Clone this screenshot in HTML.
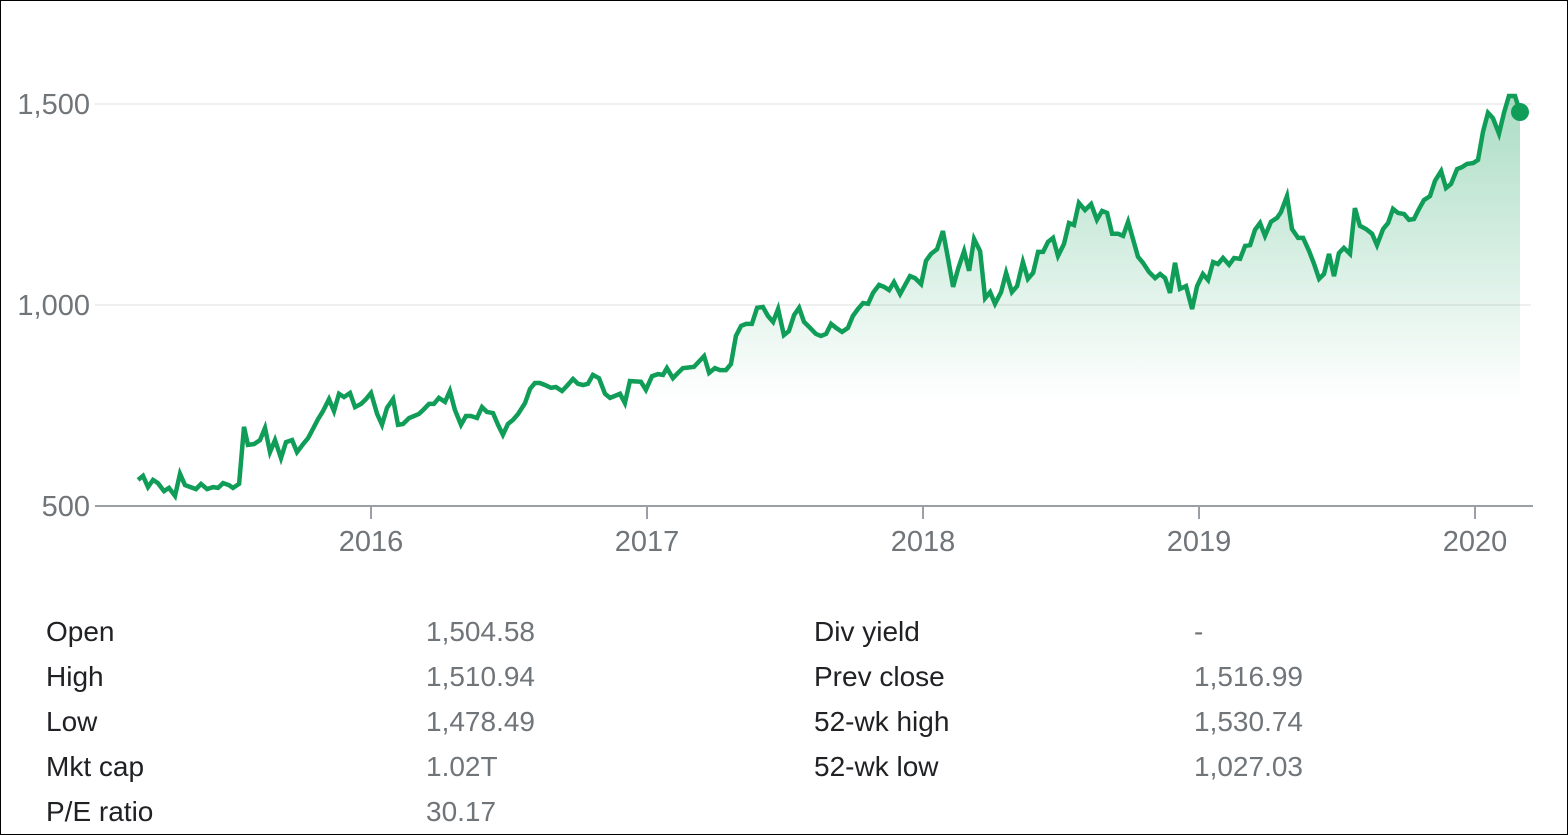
<!DOCTYPE html>
<html><head><meta charset="utf-8"><style>
body{margin:0;width:1568px;height:835px;background:#fff;font-family:"Liberation Sans",Arial,sans-serif;overflow:hidden}
#frame{position:absolute;left:0;top:0;width:1566px;height:833px;border:1px solid #000}
.st{position:absolute;font-size:28px;line-height:30px}
.l{color:#202124}.v{color:#70757a}
</style></head><body>
<div id="frame">
<svg id="chart" width="1568" height="600" style="position:absolute;left:0;top:0">
<defs><linearGradient id="g" x1="0" y1="95" x2="0" y2="400" gradientUnits="userSpaceOnUse">
<stop offset="0" stop-color="#0f9d58" stop-opacity="0.35"/><stop offset="1" stop-color="#0f9d58" stop-opacity="0"/></linearGradient></defs>
</svg>
<div class="st l" style="left:45px;top:616px">Open</div>
<div class="st v" style="left:425px;top:616px">1,504.58</div>
<div class="st l" style="left:45px;top:661px">High</div>
<div class="st v" style="left:425px;top:661px">1,510.94</div>
<div class="st l" style="left:45px;top:706px">Low</div>
<div class="st v" style="left:425px;top:706px">1,478.49</div>
<div class="st l" style="left:45px;top:751px">Mkt cap</div>
<div class="st v" style="left:425px;top:751px">1.02T</div>
<div class="st l" style="left:45px;top:796px">P/E ratio</div>
<div class="st v" style="left:425px;top:796px">30.17</div>
<div class="st l" style="left:813px;top:616px">Div yield</div>
<div class="st v" style="left:1193px;top:616px">-</div>
<div class="st l" style="left:813px;top:661px">Prev close</div>
<div class="st v" style="left:1193px;top:661px">1,516.99</div>
<div class="st l" style="left:813px;top:706px">52-wk high</div>
<div class="st v" style="left:1193px;top:706px">1,530.74</div>
<div class="st l" style="left:813px;top:751px">52-wk low</div>
<div class="st v" style="left:1193px;top:751px">1,027.03</div>
</div>
<script>
const dates=[2015.156,2015.174,2015.192,2015.210,2015.228,2015.250,2015.268,2015.290,2015.308,2015.326,2015.366,2015.384,2015.406,2015.428,2015.446,2015.464,2015.485,2015.500,2015.522,2015.540,2015.554,2015.576,2015.598,2015.616,2015.634,2015.652,2015.674,2015.692,2015.714,2015.732,2015.754,2015.772,2015.790,2015.808,2015.826,2015.848,2015.866,2015.884,2015.902,2015.924,2015.942,2015.964,2015.982,2016.000,2016.022,2016.040,2016.058,2016.080,2016.098,2016.116,2016.138,2016.156,2016.174,2016.192,2016.210,2016.228,2016.246,2016.268,2016.286,2016.304,2016.326,2016.344,2016.362,2016.384,2016.402,2016.420,2016.442,2016.460,2016.478,2016.496,2016.514,2016.533,2016.558,2016.576,2016.594,2016.612,2016.630,2016.652,2016.670,2016.692,2016.710,2016.732,2016.750,2016.768,2016.786,2016.804,2016.826,2016.848,2016.866,2016.884,2016.902,2016.920,2016.938,2016.978,2016.996,2017.018,2017.040,2017.058,2017.072,2017.094,2017.112,2017.130,2017.170,2017.207,2017.225,2017.246,2017.264,2017.286,2017.304,2017.322,2017.341,2017.359,2017.380,2017.399,2017.420,2017.438,2017.457,2017.475,2017.496,2017.514,2017.533,2017.551,2017.569,2017.591,2017.612,2017.630,2017.649,2017.667,2017.685,2017.707,2017.728,2017.746,2017.764,2017.783,2017.801,2017.819,2017.841,2017.859,2017.877,2017.895,2017.917,2017.935,2017.953,2017.971,2017.993,2018.011,2018.029,2018.051,2018.072,2018.091,2018.109,2018.127,2018.149,2018.167,2018.185,2018.207,2018.225,2018.243,2018.261,2018.283,2018.301,2018.322,2018.341,2018.362,2018.380,2018.399,2018.417,2018.435,2018.453,2018.471,2018.489,2018.511,2018.529,2018.547,2018.565,2018.587,2018.609,2018.630,2018.649,2018.667,2018.685,2018.707,2018.725,2018.743,2018.761,2018.779,2018.797,2018.819,2018.841,2018.859,2018.877,2018.895,2018.913,2018.931,2018.953,2018.975,2018.993,2019.014,2019.033,2019.051,2019.069,2019.087,2019.109,2019.127,2019.149,2019.167,2019.185,2019.203,2019.221,2019.239,2019.261,2019.283,2019.297,2019.319,2019.337,2019.359,2019.377,2019.399,2019.417,2019.435,2019.453,2019.471,2019.489,2019.507,2019.525,2019.547,2019.565,2019.583,2019.605,2019.627,2019.645,2019.667,2019.685,2019.703,2019.721,2019.743,2019.761,2019.779,2019.797,2019.815,2019.837,2019.855,2019.877,2019.895,2019.913,2019.935,2019.953,2019.971,2019.993,2020.011,2020.029,2020.047,2020.065,2020.087,2020.105,2020.123,2020.145,2020.163];
const prices=[565,575,547,565,557,537,545,525,580,552,542,555,542,547,545,557,552,545,555,697,652,654,664,694,634,664,619,659,664,634,654,669,692,716,736,766,736,779,771,781,746,754,766,781,
729,702,744,766,702,704,719,724,729,741,754,754,769,759,786,739,702,724,724,719,746,734,731,702,677,704,714,729,756,791,806,806,801,794,796,786,799,816,804,801,804,826,818,779,769,774,779,756,811,809,789,
823,828,826,843,818,831,843,846,873,831,843,838,838,853,923,948,953,953,993,995,973,958,990,925,935,975,993,958,943,928,923,928,953,943,933,943,973,990,1005,1003,1030,1050,1045,1037,1057,1027,1050,1072,1067,1052,
1110,1127,1139,1184,1115,1045,1090,1134,1085,1164,1134,1017,1032,1003,1032,1080,1032,1047,1107,1065,1080,1132,1132,1157,1167,1122,1152,1204,1199,1254,1236,1251,1212,1234,1229,1177,1177,1172,1207,1164,1120,1105,1082,1067,1077,1067,1030,1105,1040,1047,990,1047,
1077,1062,1107,1102,1117,1100,1117,1115,1147,1149,1187,1204,1172,1207,1217,1231,1271,1189,1167,1167,1134,1102,1065,1077,1127,1072,1129,1142,1127,1241,1197,1189,1177,1149,1189,1204,1239,1229,1226,1212,1214,1239,1261,1271,1309,1333,1291,1301,1338,1343,1351,1353,
1361,1431,1478,1465,1426,1478,1520,1520,1480];
const yTicks=[500,1000,1500];
const yTickLabels=["500","1,000","1,500"];
const xTicks=[2016,2017,2018,2019,2020];
const xTickLabels=["2016","2017","2018","2019","2020"];
const NS="http://www.w3.org/2000/svg";
const svg=document.getElementById('chart');
const X=d=>370+(d-2016)*276;
const Y=p=>505-(p-500)*0.402;
function mk(t,a){const e=document.createElementNS(NS,t);for(const k in a)e.setAttribute(k,a[k]);svg.appendChild(e);return e;}
yTicks.forEach((v,i)=>{
  if(i>0){const gl=mk('line',{x1:94,x2:1530,y1:Y(v),y2:Y(v),stroke:'#efefef','stroke-width':2});
  
  }
  const t=mk('text',{x:89,y:Y(v)+10,'text-anchor':'end','font-size':29,fill:'#70757a','font-family':'Liberation Sans, Arial, sans-serif'});
  t.textContent=yTickLabels[i];
  
  
});
const n=Math.min(dates.length,prices.length)-1;
let d='M'+X(dates[0]).toFixed(1)+','+Y(prices[0]).toFixed(1);
for(let i=1;i<=n;i++)d+=' L'+X(dates[i]).toFixed(1)+','+Y(prices[i]).toFixed(1);
const area=mk('path',{d:d+' L'+X(dates[n]).toFixed(1)+','+Y(500)+' L'+X(dates[0]).toFixed(1)+','+Y(500)+' Z',fill:'url(#g)'});


const ax=mk('line',{x1:94,x2:1532,y1:505,y2:505,stroke:'#9aa0a6','stroke-width':2});


xTicks.forEach((v,i)=>{
  const tk=mk('line',{x1:X(v),x2:X(v),y1:505,y2:518,stroke:'#9aa0a6','stroke-width':2});
  
  
  const t=mk('text',{x:X(v),y:550,'text-anchor':'middle','font-size':29,fill:'#70757a','font-family':'Liberation Sans, Arial, sans-serif'});
  t.textContent=xTickLabels[i];
  
  
});
const line=mk('path',{d:d,fill:'none',stroke:'#0f9d58','stroke-width':4.5,'stroke-linejoin':'miter'});


const dot=mk('circle',{cx:X(dates[n]),cy:Y(prices[n]),r:9,fill:'#0f9d58'});


</script>
</body></html>
